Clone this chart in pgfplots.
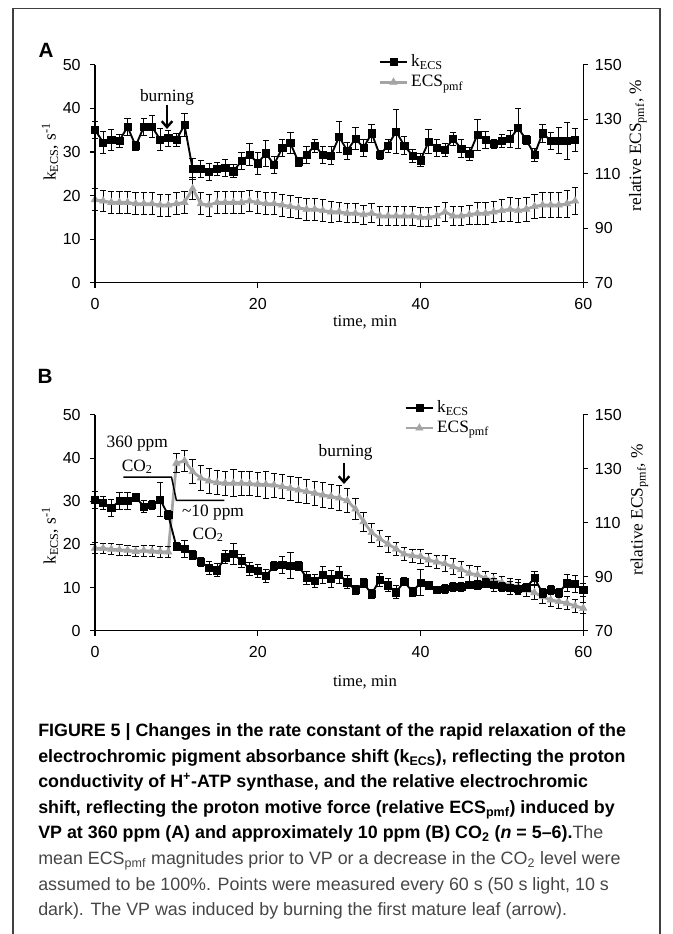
\documentclass[border=0pt]{standalone}
\usepackage{fontspec}
\setmainfont{Liberation Serif}
\newfontfamily\arial{Liberation Sans}
\usepackage{pgfplots}
\usepackage{pgfplotstable}
\pgfplotsset{compat=1.18}
\usetikzlibrary{arrows.meta}

\definecolor{sergray}{RGB}{165,165,165}
\definecolor{captgray}{RGB}{70,70,70}

% panel A, k_ECS (s^-1): time, value, error
\pgfplotstableread{
t v e
0 35.1 2
1 32.2 2.5
2 32.8 2.5
3 32.6 1.5
4 35.8 2
5 31.4 1
6 35.8 2
7 35.8 2.5
8 32.9 2.5
9 33.2 1.8
10 32.8 1.5
11 36.2 2.7
12 26.1 2.5
13 26.1 2
14 25.5 2
15 26.2 1.5
16 26.4 2
17 25.6 1.5
18 27.9 2
19 29.4 2.5
20 27.4 2.5
21 29.7 3
22 27.1 2
23 30.9 2
24 32.1 2.5
25 27.7 1
26 29.4 2
27 31.5 1.5
28 29.3 2
29 29.2 2
30 33.5 3.5
31 30.3 2
32 33.1 2.5
33 31.0 2
34 34.3 2
35 29.3 1
36 31.5 1.5
37 34.7 5
38 31.5 2
39 29.2 1.5
40 28.1 1.5
41 32.4 2.8
42 31.0 2
43 30.5 1.5
44 33.0 1.5
45 30.8 2
46 29.6 1.5
47 34.0 3.6
48 32.8 2
49 31.9 1
50 32.6 1.5
51 33.0 2
52 35.5 4.6
53 32.8 1
54 29.4 1.5
55 34.3 2
56 32.6 2
57 32.6 3
58 32.6 4.2
59 32.8 2.7
}\tabAk

% panel A, relative ECS_pmf (%)
\pgfplotstableread{
t v e
0 100.5 4
1 100 4
2 99.5 4
3 99.5 4
4 99.5 4
5 99 4
6 99 4
7 99 4
8 98.5 4
9 98.5 4
10 99 4
11 99.5 4
12 104.5 4
13 99 4
14 98.5 4
15 99.5 4
16 99.5 4
17 99.5 4
18 99.5 4
19 100 4
20 99.5 4
21 99 4
22 99 4
23 98.5 4
24 98 4
25 97.5 4
26 97 4
27 97 4
28 96.5 4
29 96 4
30 96 3.5
31 95.5 3.5
32 95.5 3.5
33 95 3.5
34 95.5 3.5
35 94.5 3.5
36 94.5 3.5
37 94.5 3.5
38 94.5 3.5
39 94.5 3.5
40 94 3.5
41 94 3.5
42 94.5 3.5
43 96 3.5
44 94.5 3.5
45 94.5 3.5
46 95 3.5
47 95.5 4
48 95.5 4
49 96 4
50 96.5 4
51 97 4.5
52 96.5 4.5
53 97 4.5
54 98 4.5
55 98.5 4.5
56 98.5 4.5
57 98.5 4.5
58 99 5
59 100 5
}\tabAp

% panel B, k_ECS (s^-1)
\pgfplotstableread{
t v e
0 30.3 2
1 29.6 1.5
2 28.4 2
3 30.1 2
4 30.1 2
5 30.9 1
6 28.8 1.5
7 29.1 1
8 30.4 4
9 26.8 1
10 19.5 1
11 18.9 2
12 17.6 1
13 16.0 1
14 14.5 1.5
15 14.0 1.5
16 17.0 1.5
17 17.8 2.5
18 16.2 1.5
19 14.4 1.5
20 13.8 1.5
21 12.7 1.5
22 15.0 1
23 15.2 2
24 15.1 3
25 15.0 1
26 12.3 1.5
27 11.6 1.5
28 12.9 2
29 12.0 2
30 13.0 2
31 11.2 1.5
32 9.4 1
33 11.0 1
34 8.5 1
35 11.8 1.5
36 10.5 1.5
37 8.9 1.5
38 11.4 1
39 9.0 1
40 11.1 3
41 10.5 1
42 9.5 0.8
43 9.7 1
44 10.2 1
45 10.2 1
46 10.6 0.8
47 10.6 1
48 11.0 1
49 10.6 1.5
50 10.2 1
51 10.0 1.5
52 9.8 1.5
53 10.0 1
54 12.2 1.5
55 8.7 1
56 9.4 1
57 8.8 1
58 11.0 2
59 10.8 2
60 9.4 1.5
}\tabBk

% panel B, relative ECS_pmf (%)
\pgfplotstableread{
t v e
0 100.6 2
1 100.5 2
2 100.2 2
3 100 2
4 99.8 2
5 99.4 2
6 99.7 2
7 99.5 2
8 99.3 2
9 99.2 2
10 132.1 3.5
11 133 4
12 129 4.5
13 126.6 4.5
14 125.5 4.5
15 124.9 4.5
16 124.7 4.5
17 124.7 5
18 124.7 4.5
19 124.5 4.5
20 124.3 4.5
21 124.2 5
22 124.0 4.5
23 123.4 4.5
24 122.8 4.5
25 122.2 4.5
26 121.6 4.5
27 121.0 4.5
28 120.3 4.5
29 119.8 4.5
30 119.2 4.5
31 118.2 4.5
32 115.1 4
33 110.4 3.5
34 106.4 3.5
35 104.1 3
36 102.1 3
37 100.3 2.5
38 98.4 2.5
39 97.8 2.5
40 97.5 2.5
41 96.2 2.5
42 95.5 2.5
43 94.8 3
44 93.7 3
45 92.7 3
46 91.3 3
47 90.7 3
48 89.4 2.5
49 88.8 2.5
50 87.8 2.5
51 87.0 2.5
52 86.4 2.5
53 85.1 2.5
54 84.1 2.5
55 82.6 2.5
56 81.4 2.5
57 80.8 2.5
58 80.2 2.5
59 79.2 2.5
60 78.3 2
}\tabBp

\pgfplotsset{
  kline/.style={black, line width=1.4pt, mark=square*, mark size=2.7pt,
    mark options={solid, line width=0.4pt}},
  gline/.style={sergray, line width=2.1pt, mark=triangle*, mark size=3.2pt,
    mark options={solid, line width=0.4pt}},
  ebars/.style={error bars/.cd, y dir=both, y explicit,
    error bar style={black, line width=0.6pt},
    error mark options={rotate=90, black, line width=0.6pt, mark size=2.4pt}},
  base/.style={scale only axis, width=366.2pt, xmin=0, xmax=60, clip=false,
    anchor=south west, tick align=outside, major tick length=3.75pt,
    axis line style={-, line width=0.8pt}, tick style={line width=0.8pt, black},
    ticklabel style={font=\arial\fontsize{12}{13}\selectfont},
    xticklabel style={yshift=-4.5pt},
    /pgf/number format/assume math mode=true},
  leftax/.style={base, axis x line*=bottom, axis y line*=left,
    ymin=0, ymax=50, ytick={0,10,...,50}, xtick={0,20,40,60},
    yticklabel style={xshift=-3.5pt}},
  rightax/.style={base, axis x line=none, axis y line*=right,
    ymin=70, ymax=150, ytick={70,90,...,150},
    yticklabel style={xshift=1.5pt}},
  legimg/.style={legend image code/.code={
    \draw[mark repeat=2, mark phase=2] plot coordinates {(0cm,0cm) (0.36cm,0cm) (0.72cm,0cm)};}},
}

\newcommand{\lab}{\fontsize{13}{15}\selectfont}

\begin{document}
\begin{tikzpicture}
\useasboundingbox (0,0) rectangle (504.75pt,700.5pt);
\draw[line width=0.8pt, black!75] (9.75pt,0) -- (9.75pt,694pt) -- (495pt,694pt) -- (495pt,0);

\node[font=\arial\bfseries\fontsize{15.5}{16}\selectfont] at (34.5pt,663pt) {A};
\node[font=\arial\bfseries\fontsize{15.5}{16}\selectfont] at (33.75pt,418.5pt) {B};

% ---- panel A ----
\begin{axis}[rightax, at={(71.25pt,488.5pt)}, height=163.3pt, legimg,
  legend style={draw=none, fill=none, font=\lab, at={(0.58,1.06)}, anchor=north west,
    row sep=1pt, inner sep=0pt}, legend cell align=left]
\addlegendimage{kline}
\addlegendentry{k\textsubscript{ECS}}
\addplot[gline, ebars] table[x=t, y=v, y error=e] {\tabAp};
\addlegendentry{ECS\textsubscript{pmf}}
\node[rotate=90, font=\lab] at (rel axis cs:1.112,0.63) {relative ECS\textsubscript{pmf}, \%};
\end{axis}

\begin{axis}[leftax, at={(71.25pt,488.5pt)}, height=163.3pt]
\addplot[kline, ebars] table[x=t, y=v, y error=e] {\tabAk};
\node[rotate=90, font=\lab] at (rel axis cs:-0.092,0.60) {k\textsubscript{ECS}, s\textsuperscript{-1}};
\node[font=\fontsize{12.5}{14}\selectfont] at (rel axis cs:0.553,-0.18) {time, min};
\node[font=\lab] at (axis cs:8.85,42.6) {burning};
\draw[line width=1.8pt, -{Straight Barb[length=4.5pt,width=8pt]}] (axis cs:8.85,40.9) -- (axis cs:8.85,35.3);
\end{axis}

% ---- panel B ----
\begin{axis}[rightax, at={(71.25pt,227.5pt)}, height=161.8pt, legimg,
  legend style={draw=none, fill=none, font=\lab, at={(0.633,1.08)}, anchor=north west,
    row sep=1pt, inner sep=0pt}, legend cell align=left]
\addlegendimage{kline}
\addlegendentry{k\textsubscript{ECS}}
\addplot[gline, ebars] table[x=t, y=v, y error=e] {\tabBp};
\addlegendentry{ECS\textsubscript{pmf}}
\node[rotate=90, font=\lab] at (rel axis cs:1.115,0.56) {relative ECS\textsubscript{pmf}, \%};
\end{axis}

\begin{axis}[leftax, at={(71.25pt,227.5pt)}, height=161.8pt]
\addplot[kline, ebars] table[x=t, y=v, y error=e] {\tabBk};
\node[rotate=90, font=\lab] at (rel axis cs:-0.092,0.44) {k\textsubscript{ECS}, s\textsuperscript{-1}};
\node[font=\fontsize{12.5}{14}\selectfont] at (rel axis cs:0.553,-0.238) {time, min};
\node[font=\lab] at (axis cs:30.8,41.3) {burning};
\draw[line width=1.8pt, -{Straight Barb[length=4.5pt,width=8pt]}] (axis cs:30.6,38.8) -- (axis cs:30.6,34.0);
\draw[line width=1.1pt] (axis cs:3.5,35.6) -- (axis cs:9.4,35.6) -- (axis cs:10,30.2) -- (axis cs:15.9,30.2);
\node[font=\lab] at (axis cs:5.2,43.3) {360 ppm};
\node[font=\lab] at (axis cs:5.2,38.0) {CO\textsubscript{2}};
\node[font=\lab] at (axis cs:14.5,27.3) {\textasciitilde10 ppm};
\node[font=\lab] at (axis cs:13.9,22.2) {CO\textsubscript{2}};
\end{axis}

% ---- caption ----
\node[anchor=north west, inner sep=0pt, align=left, font=\arial\fontsize{13.4}{19.2}\selectfont]
  at (28.5pt,158pt) {%
\textbf{FIGURE 5 | Changes in the rate constant of the rapid relaxation of the}\\
\textbf{electrochromic pigment absorbance shift (k\textsubscript{ECS}), reflecting the proton}\\
\textbf{conductivity of H\textsuperscript{+}-ATP synthase, and the relative electrochromic}\\
\textbf{shift, reflecting the proton motive force (relative ECS\textsubscript{pmf}) induced by}\\
\textbf{VP at 360 ppm (A) and approximately 10 ppm (B) CO\textsubscript{2} (\textit{n} = 5–6).}\textcolor{captgray}{ The}\\
\textcolor{captgray}{mean ECS\textsubscript{pmf} magnitudes prior to VP or a decrease in the CO\textsubscript{2} level were}\\
\textcolor{captgray}{assumed to be 100\%. Points were measured every 60 s (50 s light, 10 s}\\
\textcolor{captgray}{dark). The VP was induced by burning the first mature leaf (arrow).}};
\end{tikzpicture}
\end{document}
